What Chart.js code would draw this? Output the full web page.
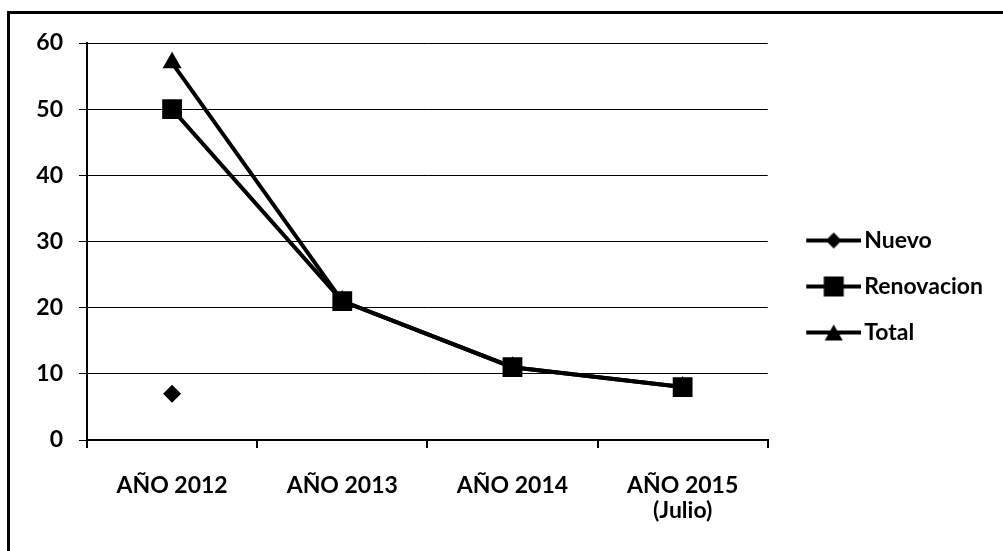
<!DOCTYPE html>
<html>
<head>
<meta charset="utf-8">
<script src="https://cdn.jsdelivr.net/npm/chart.js@4"></script>
<style>
  body { margin: 0; background: #fff; }
  #wrap { position: relative; width: 1003px; height: 551px; overflow: hidden; }
  #frame { position: absolute; left: 7px; top: 11px; width: 1100px; height: 700px;
           border-left: 3px solid #000; border-top: 3px solid #000; }
  canvas { position: absolute; left: 0; top: 0; }
</style>
</head>
<body>
<div id="wrap">
  <div id="frame"></div>
  <canvas id="chart" width="1003" height="551"></canvas>
</div>
<script>
// data
const years = [["AÑO 2012"], ["AÑO 2013"], ["AÑO 2014"], ["AÑO 2015", "(Julio)"]];
const nuevo = [7, null, null, null];
const renovacion = [50, 21, 11, 8];
const total = [57, 21, 11, 8];
const yTicks = [0, 10, 20, 30, 40, 50, 60];

const FONT = { family: "Lato, 'Open Sans', sans-serif", size: 23, weight: "bold", lineHeight: 1.1 };

// legend swatch: line with the marker in the middle (left part left blank on purpose)
function swatch(style) {
  const c = document.createElement("canvas");
  c.width = 79; c.height = 22;
  const ctx = c.getContext("2d");
  const x0 = 24, x1 = 79, cx = (x0 + x1) / 2;
  ctx.strokeStyle = "#000";
  ctx.lineWidth = 4;
  ctx.beginPath(); ctx.moveTo(x0, 11); ctx.lineTo(x1, 11); ctx.stroke();
  ctx.fillStyle = "#000";
  ctx.beginPath();
  if (style === "rectRot") {
    ctx.moveTo(cx, 3); ctx.lineTo(cx + 8, 11); ctx.lineTo(cx, 19); ctx.lineTo(cx - 8, 11);
  } else if (style === "rect") {
    ctx.rect(cx - 10, 1, 20, 20);
  } else {
    ctx.moveTo(cx, 3); ctx.lineTo(cx + 9, 19); ctx.lineTo(cx - 9, 19);
  }
  ctx.closePath(); ctx.fill();
  return c;
}

new Chart(document.getElementById("chart"), {
  type: "line",
  data: {
    labels: years,
    datasets: [
      { label: "Nuevo", data: nuevo, pointStyle: "rectRot", pointRadius: 9 },
      { label: "Renovacion", data: renovacion, pointStyle: "rect", pointRadius: 14 },
      { label: "Total", data: total, pointStyle: "triangle", pointRadius: 11 }
    ].map(d => Object.assign(d, {
      borderColor: "#000", backgroundColor: "#000", pointBackgroundColor: "#000",
      pointBorderColor: "#000", borderWidth: 4, pointBorderWidth: 0, tension: 0,
      pointHoverRadius: d.pointRadius
    }))
  },
  options: {
    responsive: false,
    animation: false,
    layout: { padding: { left: 0, top: 43, right: 10, bottom: 21 } },
    plugins: {
      tooltip: { enabled: false },
      legend: {
        position: "right",
        labels: {
          color: "#000",
          font: FONT,
          usePointStyle: true,
          pointStyleWidth: 62,
          padding: 23,
          generateLabels(chart) {
            const items = Chart.defaults.plugins.legend.labels.generateLabels(chart);
            items.forEach(it => { it.pointStyle = swatch(chart.data.datasets[it.datasetIndex].pointStyle); });
            return items;
          }
        }
      }
    },
    scales: {
      x: {
        offset: true,
        grid: { offset: true, drawOnChartArea: false, color: "#000", tickLength: 8, lineWidth: 2 },
        border: { color: "#000", width: 2 },
        ticks: { color: "#000", font: FONT, padding: 25, maxRotation: 0 },
        afterFit(scale) { scale.height = 90; }
      },
      y: {
        min: 0, max: 60,
        afterBuildTicks(scale) { scale.ticks = yTicks.map(v => ({ value: v })); },
        grid: { color: "#000", lineWidth: 1, tickLength: 8 },
        border: { color: "#000", width: 2 },
        ticks: { color: "#000", font: FONT, padding: 16 },
        afterFit(scale) { scale.width = 87; }
      }
    }
  }
});
</script>
</body>
</html>
